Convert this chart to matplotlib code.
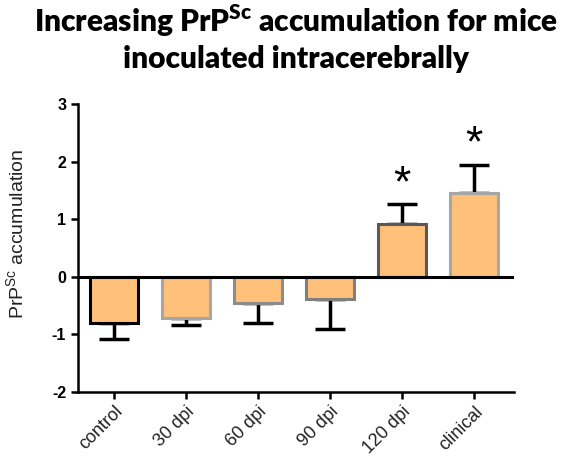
import matplotlib
matplotlib.use("Agg")
import matplotlib.pyplot as plt

categories = ["control", "30 dpi", "60 dpi", "90 dpi", "120 dpi", "clinical"]
values = [-0.81, -0.72, -0.46, -0.39, 0.92, 1.46]
errors = [0.27, 0.12, 0.35, 0.51, 0.34, 0.49]
edge_colors = ["#000000", "#a6a6a6", "#8c8c8c", "#7f7f7f", "#595959", "#a6a6a6"]
significant = [False, False, False, False, True, True]
yticks = [-2, -1, 0, 1, 2, 3]

fig = plt.figure(figsize=(5.61, 4.61), dpi=100)
ax = fig.add_axes([0.139, 0.150, 0.777, 0.624])
x = list(range(len(categories)))
bars = ax.bar(x, values, width=0.66, color="#FFC07A", edgecolor=edge_colors, linewidth=2.2, zorder=2)

for xi, v, e in zip(x, values, errors):
    lo = [[0], [e]] if v >= 0 else [[e], [0]]
    ax.errorbar(xi, v, yerr=lo, fmt="none", ecolor="black", elinewidth=2.5,
                capsize=11, capthick=2.5, zorder=1)

for xi, v, e, s in zip(x, values, errors, significant):
    if s:
        ax.text(xi, v + e - 0.02, "*", ha="center", va="bottom", fontsize=32,
                family="Liberation Sans")

ax.axhline(0, color="black", lw=2.2, zorder=3)
ax.set_xlim(-0.5, 5.55)
ax.set_ylim(-2, 3)
ax.set_yticks(yticks)
ax.set_yticklabels([str(t) for t in yticks], fontweight="bold", family="Liberation Sans", fontsize=11.5)
ax.set_xticks(x)
ax.set_xticklabels(categories, rotation=45, ha="right", rotation_mode="anchor",
                   family="Liberation Sans", fontsize=13, color="#222222")
for s in ["top", "right"]:
    ax.spines[s].set_visible(False)
for s in ["left", "bottom"]:
    ax.spines[s].set_linewidth(1.8)
ax.tick_params(axis="both", direction="out", width=1.8, length=5)
ax.tick_params(axis="x", pad=3)
ax.set_ylabel("PrP$^{\\mathregular{Sc}}$ accumulation", family="Liberation Sans", fontsize=14,
              color="#222222")
ax.yaxis.set_label_coords(-0.115, 0.55)

fig.text(0.527, 0.931, "Increasing PrP$^{\\mathregular{Sc}}$ accumulation for mice",
         ha="center", va="baseline", fontsize=21.5, fontweight="heavy", family="Lato")
fig.text(0.527, 0.852, "inoculated intracerebrally",
         ha="center", va="baseline", fontsize=21.5, fontweight="heavy", family="Lato")

fig.savefig("out.png", dpi=100)
